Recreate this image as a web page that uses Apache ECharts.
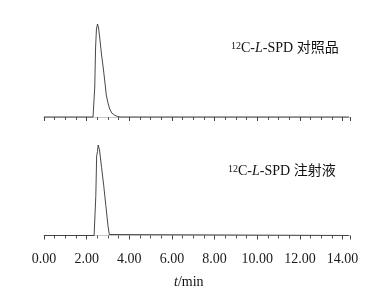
<!DOCTYPE html>
<html>
<head>
<meta charset="utf-8">
<script src="https://cdn.jsdelivr.net/npm/echarts@6/dist/echarts.min.js"></script>
<style>
  html, body { margin: 0; padding: 0; background: #fff; }
  #chart { width: 385px; height: 299px; }
</style>
</head>
<body>
<div id="chart"></div>
<script>
// retention time (min) and detector response
const refTime = [0, 2.3, 2.35, 2.38, 2.42, 2.46, 2.51, 2.56, 2.62, 2.7, 2.78, 2.86, 2.92, 3.0, 3.08, 3.18, 3.3, 3.45, 3.6, 14.3];
const refSignal = [0, 0, 1, 30, 70, 88, 93, 89, 78, 62, 49, 34, 22, 14, 8, 4, 2, 0.5, 0, 0];

const injTime = [0, 2.35, 2.39, 2.43, 2.47, 2.51, 2.54, 2.6, 2.7, 2.8, 2.9, 3.0, 3.06, 3.15, 14.3];
const injSignal = [0, 0, 1, 40, 80, 84, 90.5, 86, 68, 50, 30, 10, 1, 0, 0];

const xTickLabels = ['0.00', '2.00', '4.00', '6.00', '8.00', '10.00', '12.00', '14.00'];
const xMax = 14.35;

const serif = '"Liberation Serif", "Times New Roman", serif';
const myChart = echarts.init(document.getElementById('chart'), null, { renderer: 'canvas' });

function xAxisFor(idx, showLabels) {
  return {
    type: 'value',
    gridIndex: idx,
    min: 0,
    max: xMax,
    interval: 2,
    axisLine: { show: true, lineStyle: { color: '#c8c8c8', width: 1 } },
    axisTick: { show: true, length: 4, lineStyle: { color: '#444', width: 1 } },
    minorTick: { show: true, splitNumber: 4, length: 3, lineStyle: { color: '#555', width: 1 } },
    splitLine: { show: false },
    axisLabel: {
      show: showLabels,
      margin: 12,
      fontFamily: serif,
      fontSize: 14,
      color: '#1a1a1a',
      formatter: (v) => xTickLabels[Math.round(v / 2)] || ''
    }
  };
}

function yAxisFor(idx, min, max) {
  return {
    type: 'value',
    gridIndex: idx,
    min: min,
    max: max,
    show: false
  };
}

const lineStyle = { color: '#333', width: 0.9 };

const titleRich = {
  sup: { fontFamily: serif, fontSize: 10, fill: '#111', verticalAlign: 'top', padding: [0, 0, 5, 0] },
  n: { fontFamily: serif + ', "Noto Sans CJK SC"', fontSize: 14, fill: '#111' },
  i: { fontFamily: serif, fontStyle: 'italic', fontSize: 14, fill: '#111' }
};

const option = {
  animation: false,
  grid: [
    { left: 44, right: 35, top: 20, height: 103 },
    { left: 44, right: 35, top: 140, height: 100 }
  ],
  xAxis: [xAxisFor(0, false), xAxisFor(1, true)],
  yAxis: [yAxisFor(0, -6, 97), yAxisFor(1, -4.5, 95.5)],
  series: [
    {
      type: 'line', xAxisIndex: 0, yAxisIndex: 0, showSymbol: false,
      lineStyle: lineStyle,
      data: refTime.map((t, i) => [t, refSignal[i]])
    },
    {
      type: 'line', xAxisIndex: 1, yAxisIndex: 1, showSymbol: false,
      lineStyle: lineStyle,
      data: injTime.map((t, i) => [t, injSignal[i]])
    }
  ],
  graphic: [
    {
      type: 'text', left: 231, top: 41,
      style: { text: '{sup|12}{n|C-}{i|L}{n|-SPD 对照品}', rich: titleRich }
    },
    {
      type: 'text', left: 228, top: 164,
      style: { text: '{sup|12}{n|C-}{i|L}{n|-SPD 注射液}', rich: titleRich }
    },
    {
      type: 'text', left: 174, top: 275,
      style: {
        text: '{i|t}{n|/min}',
        rich: {
          i: { fontFamily: serif, fontStyle: 'italic', fontSize: 14, fill: '#111' },
          n: { fontFamily: serif, fontSize: 14, fill: '#111' }
        }
      }
    }
  ]
};

myChart.setOption(option);
window.addEventListener('resize', myChart.resize);
</script>
</body>
</html>
